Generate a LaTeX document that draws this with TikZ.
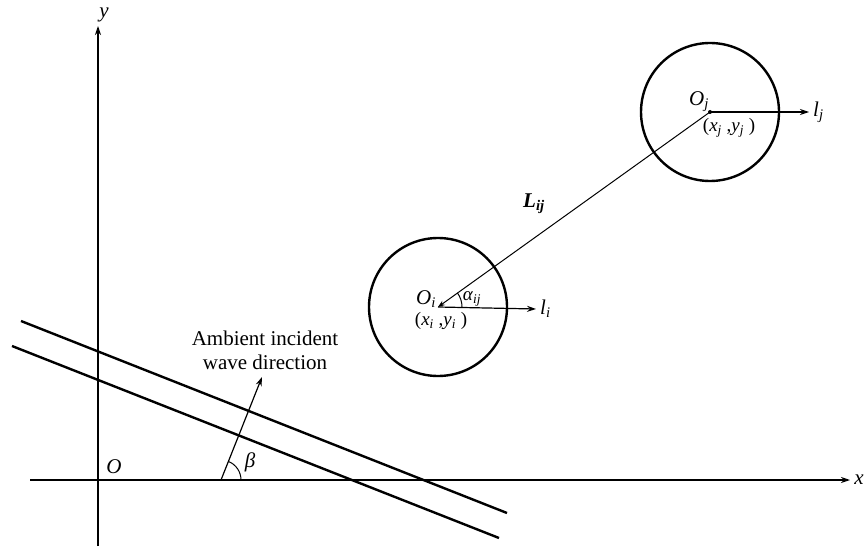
\documentclass[tikz,border=0pt]{standalone}
\usepackage{fontspec}
\setmainfont{Liberation Serif}
\usetikzlibrary{arrows.meta}
\newcommand{\sbs}[1]{\textsubscript{\textit{#1}}}
\begin{document}
\begin{tikzpicture}[x=1pt,y=-1pt,
  axis/.style={line width=1.2pt,-{Stealth[length=9pt,width=6pt]}},
  thin arrow/.style={line width=1.2pt,-{Stealth[length=9pt,width=6pt]}},
  thick line/.style={line width=2.4pt},
  cyl/.style={circle,draw,line width=2.4pt,minimum size=138pt,inner sep=0pt},
  lbl/.style={inner sep=0pt,font=\fontsize{21}{24}\selectfont},
  sml/.style={inner sep=0pt,font=\fontsize{19}{22}\selectfont}]
\useasboundingbox (0,0) rectangle (866,548);
% axes
\coordinate (xs) at (30,480);
\coordinate (xe) at (850,480);
\coordinate (ys) at (98,546);
\coordinate (ye) at (98,26);
\draw[axis] (xs) -- (xe);
\draw[axis] (ys) -- (ye);
\node[lbl] (xl) at (859,480) {\textit{x}};
\node[lbl] (yl) at (104,15) {\textit{y}};
\node[lbl] (ol) at (114,467) {\textit{O}};
% wave crest lines
\coordinate (w1a) at (21,321);
\coordinate (w1b) at (507,513);
\coordinate (w2a) at (12,346);
\coordinate (w2b) at (499,538);
\draw[thick line] (w1a) -- (w1b);
\draw[thick line] (w2a) -- (w2b);
% wave direction
\coordinate (wb) at (221,480);
\coordinate (wt) at (262,377);
\draw[thin arrow] (wb) -- (wt);
\draw[line width=1pt] ([xshift=20pt]wb) arc[start angle=0,end angle=68,radius=20pt];
\node[lbl] (beta) at (250,462) {\textit{β}};
\node[lbl,align=center] (amb) at (265,350) {Ambient incident\\wave direction};
% cylinder i
\coordinate (Oi) at (438,307);
\node[cyl] (ci) at (Oi) {};
\coordinate (lie) at (536,309);
\draw[thin arrow] (Oi) -- (lie);
\node[lbl,anchor=west] (lil) at (540,309) {\textit{l}\sbs{i}};
\node[lbl] (oil) at (426,299) {\textit{O}\sbs{i}};
\node[sml] (xyi) at (441,321) {(\textit{x}\sbs{i} ,\textit{y}\sbs{i} )};
% cylinder j
\coordinate (Oj) at (710,112);
\node[cyl] (cj) at (Oj) {};
\coordinate (lje) at (809,112);
\draw[thin arrow] (Oj) -- (lje);
\node[lbl,anchor=west] (ljl) at (813,112) {\textit{l}\sbs{j}};
\node[lbl] (ojl) at (699,102) {\textit{O}\sbs{j}};
\node[sml] (xyj) at (729,128) {(\textit{x}\sbs{j} ,\textit{y}\sbs{j} )};
% connecting line
\draw[line width=1pt,-{Stealth[length=7pt,width=5pt]}] (Oj) -- (Oi);
\fill (Oj) circle[radius=2pt];
\draw[line width=1pt] ([xshift=24pt]Oi) arc[start angle=0,end angle=35.7,radius=24pt];
\node[sml] (al) at (472,299) {\textit{α}\sbs{ij}};
\node[lbl] (Ll) at (534,204) {\textbf{\textit{L}}\textsubscript{\textbf{\textit{ij}}}};
\end{tikzpicture}
\end{document}
